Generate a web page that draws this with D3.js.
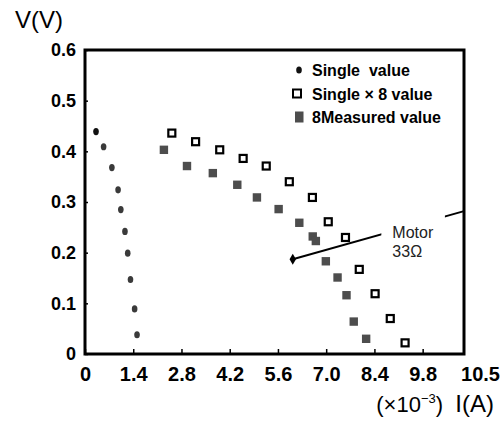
<!DOCTYPE html>
<html lang='en'>
	<head>
		<meta charset='utf-8'>
		<title>V-I curve</title>
		<script type='text/javascript' src='https://cdn.jsdelivr.net/npm/d3@7'></script>
		<style>
			body { margin: 0; background: #fff; }
			text { font-family: 'Liberation Sans', Arial, sans-serif; white-space: pre; }
		</style>
	</head>
	<body>
		<script type='text/javascript'>
		// single cell (I in mA, V in V)
		var singleI = [0.32, 0.54, 0.78, 0.96, 1.04, 1.16, 1.24, 1.32, 1.44, 1.51];
		var singleV = [0.439, 0.409, 0.368, 0.324, 0.285, 0.242, 0.199, 0.147, 0.089, 0.038];

		// single x 8
		var single8I = [2.52, 3.21, 3.91, 4.59, 5.26, 5.93, 6.60, 7.06, 7.56, 7.96, 8.42, 8.86, 9.29];
		var single8V = [0.436, 0.419, 0.403, 0.386, 0.371, 0.340, 0.309, 0.261, 0.230, 0.167, 0.119, 0.070, 0.022];

		// 8 measured
		var measuredI = [2.29, 2.96, 3.71, 4.42, 4.99, 5.62, 6.22, 6.61, 6.70, 6.99, 7.33, 7.59, 7.80, 8.16];
		var measuredV = [0.403, 0.371, 0.357, 0.334, 0.309, 0.286, 0.259, 0.232, 0.223, 0.183, 0.151, 0.116, 0.064, 0.030];

		// motor 33 ohm line
		var motorI = [6.03, 11.0];
		var motorV = [0.187, 0.282];

		var xTickValues = [0, 1.4, 2.8, 4.2, 5.6, 7.0, 8.4, 9.8];
		var xTickLabels = ['0', '1.4', '2.8', '4.2', '5.6', '7.0', '8.4', '9.8', '10.5'];
		var yTickValues = [0, 0.1, 0.2, 0.3, 0.4, 0.5, 0.6];
		var yTickLabels = ['0', '0.1', '0.2', '0.3', '0.4', '0.5', '0.6'];
		var legendLabels = ['Single  value', 'Single × 8 value', '8Measured value'];

		{
			var width = 502, height = 423;
			var plotL = 85, plotR = 464, plotT = 50, plotB = 354;
			var svg_elem = d3.select('body').append('svg').attr('width', width).attr('height', height)

			var x = d3.scaleLinear().domain([0, 11]).range([plotL, plotR])
			var y = d3.scaleLinear().domain([0, 0.6]).range([plotB, plotT])

			// axes
			var xAxis = svg_elem.append('g')
				.attr('transform', 'translate(0,' + plotB + ')')
				.call(d3.axisBottom(x).tickValues(xTickValues).tickFormat((d, i) => xTickLabels[i])
					.tickSizeInner(-5).tickSizeOuter(0).tickPadding(13))
			xAxis.selectAll('text')
				.attr('font-weight', 'bold').attr('font-size', 20).attr('fill', '#000')
				.style('font-family', "'Liberation Sans', Arial, sans-serif")
			// last label sits past the frame
			svg_elem.append('text')
				.attr('x', 500).attr('y', plotB + 13).attr('dy', '0.71em')
				.attr('text-anchor', 'end')
				.attr('font-weight', 'bold').attr('font-size', 20)
				.text(xTickLabels[xTickLabels.length - 1])

			var yAxis = svg_elem.append('g')
				.attr('transform', 'translate(' + plotL + ',0)')
				.call(d3.axisLeft(y).tickValues(yTickValues).tickFormat((d, i) => yTickLabels[i])
					.tickSizeInner(-3).tickSizeOuter(0).tickPadding(9))
			yAxis.selectAll('text')
				.attr('font-weight', 'bold').attr('font-size', 18).attr('fill', '#000')
				.style('font-family', "'Liberation Sans', Arial, sans-serif")

			svg_elem.selectAll('.domain').remove()
			svg_elem.selectAll('.tick line').attr('stroke', '#000').attr('stroke-width', 1.5)

			// frame
			svg_elem.append('rect')
				.attr('x', plotL).attr('y', plotT)
				.attr('width', plotR - plotL).attr('height', plotB - plotT)
				.attr('fill', 'none').attr('stroke', '#000').attr('stroke-width', 3)

			// axis titles
			svg_elem.append('text')
				.attr('x', 15).attr('y', 28)
				.attr('font-size', 24)
				.text('V(V)')

			var xt = svg_elem.append('text')
				.attr('x', 494).attr('y', 412)
				.attr('text-anchor', 'end')
			xt.append('tspan').attr('font-size', 22).text('(×10')
			xt.append('tspan').attr('font-size', 13).attr('dy', -9).text('−3')
			xt.append('tspan').attr('font-size', 22).attr('dy', 9).text(')  ')
			xt.append('tspan').attr('font-size', 24).text('I(A)')

			// motor line
			var motorData = motorI.map((d, i) => [d, motorV[i]]);
			svg_elem.append('path')
				.datum(motorData)
				.attr('d', d3.line().x(d => x(d[0])).y(d => y(d[1])))
				.attr('stroke', '#000').attr('stroke-width', 2).attr('fill', 'none')
			svg_elem.append('path')
				.attr('d', d3.symbol(d3.symbolDiamond, 36)())
				.attr('transform', 'translate(' + x(motorI[0]) + ',' + y(motorV[0]) + ')')
				.attr('fill', '#000')

			var motorLabel = svg_elem.append('g')
			var ml = motorLabel.append('text')
				.attr('x', x(8.92)).attr('y', 238)
				.attr('font-size', 16).attr('fill', '#222')
			ml.append('tspan').text('Motor')
			ml.append('tspan').attr('x', x(8.92)).attr('dy', 19).text('33Ω')
			var bb = ml.node().getBBox();
			motorLabel.insert('rect', 'text')
				.attr('x', bb.x - 11).attr('y', bb.y - 10)
				.attr('width', bb.width + 22).attr('height', bb.height + 12)
				.attr('fill', '#fff')

			// single x 8 (open squares)
			svg_elem.selectAll('rect.s8').data(single8I).enter().append('rect')
				.attr('class', 's8')
				.attr('x', d => x(d) - 3.5)
				.attr('y', (d, i) => y(single8V[i]) - 3.5)
				.attr('width', 7).attr('height', 7)
				.attr('fill', '#fff').attr('stroke', '#000').attr('stroke-width', 2.2)

			// measured (filled squares)
			svg_elem.selectAll('rect.m8').data(measuredI).enter().append('rect')
				.attr('class', 'm8')
				.attr('x', d => x(d) - 4.2)
				.attr('y', (d, i) => y(measuredV[i]) - 4.2)
				.attr('width', 8.4).attr('height', 8.4)
				.attr('fill', '#4d4d4d')

			// single (dots)
			svg_elem.selectAll('ellipse.s1').data(singleI).enter().append('ellipse')
				.attr('class', 's1')
				.attr('cx', d => x(d))
				.attr('cy', (d, i) => y(singleV[i]))
				.attr('rx', 2.8).attr('ry', 3.6)
				.attr('fill', (d, i) => i == 0 ? '#111' : '#3a3a3a')

			// legend
			var legend = svg_elem.append('g')
			legendLabels.forEach(function(label, i) {
				var ly = 70 + i * 23.5;
				if(i == 0)
					legend.append('ellipse').attr('cx', 299).attr('cy', ly).attr('rx', 2.8).attr('ry', 3.6).attr('fill', '#111')
				else if(i == 1)
					legend.append('rect').attr('x', 293).attr('y', ly - 4).attr('width', 8).attr('height', 8)
						.attr('fill', '#fff').attr('stroke', '#000').attr('stroke-width', 2)
				else
					legend.append('rect').attr('x', 295).attr('y', ly - 5.5).attr('width', 8.5).attr('height', 11)
						.attr('fill', '#4d4d4d')
				legend.append('text')
					.attr('x', 312).attr('y', ly + 6)
					.attr('font-size', 16).attr('font-weight', 'bold')
					.text(label)
			})
		}
		</script>
	</body>
</html>
